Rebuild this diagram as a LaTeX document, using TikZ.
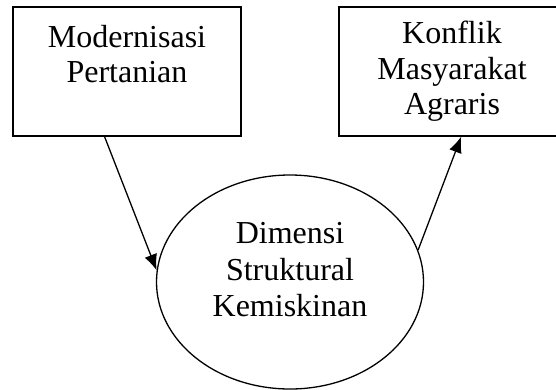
\documentclass[tikz,border=0pt]{standalone}
\usepackage{fontspec}
\setmainfont{Liberation Serif}
\usetikzlibrary{arrows.meta,shapes.geometric}
\tikzset{
	box/.style={draw, line width=1.3pt, align=center, inner sep=0pt, font=\fontsize{32}{35.5}\selectfont},
	oval/.style={draw, ellipse, line width=1.3pt, align=center, inner sep=0pt},
	link/.style={line width=1.3pt, -{Latex[length=16pt,width=13pt]}}
}
\begin{document}
\begin{tikzpicture}[x=1pt,y=-1pt]
		\useasboundingbox (0,0) rectangle (556,389);
		
		% boxes
		\node[box, minimum width=228pt, minimum height=129pt] (mod) at (127,71.5) {Modernisasi\\Pertanian\\\mbox{}};
		\node[box, minimum width=226pt, minimum height=129pt] (kon) at (452,71.5) {Konflik\\Masyarakat\\Agraris};
		
		% ellipse
		\node[oval, minimum width=267pt, minimum height=214pt] (dim) at (290,282) {};
		\node[font=\fontsize{32}{36.5}\selectfont, align=center, inner sep=0pt] (dimtext) at (290,270) {Dimensi\\Struktural\\Kemiskinan};
		
		% arrows
		\draw[link] (mod.-109) -- (dim.175);
		\draw[link] (dim.14) -- (kon.-82);
	\end{tikzpicture}
\end{document}
